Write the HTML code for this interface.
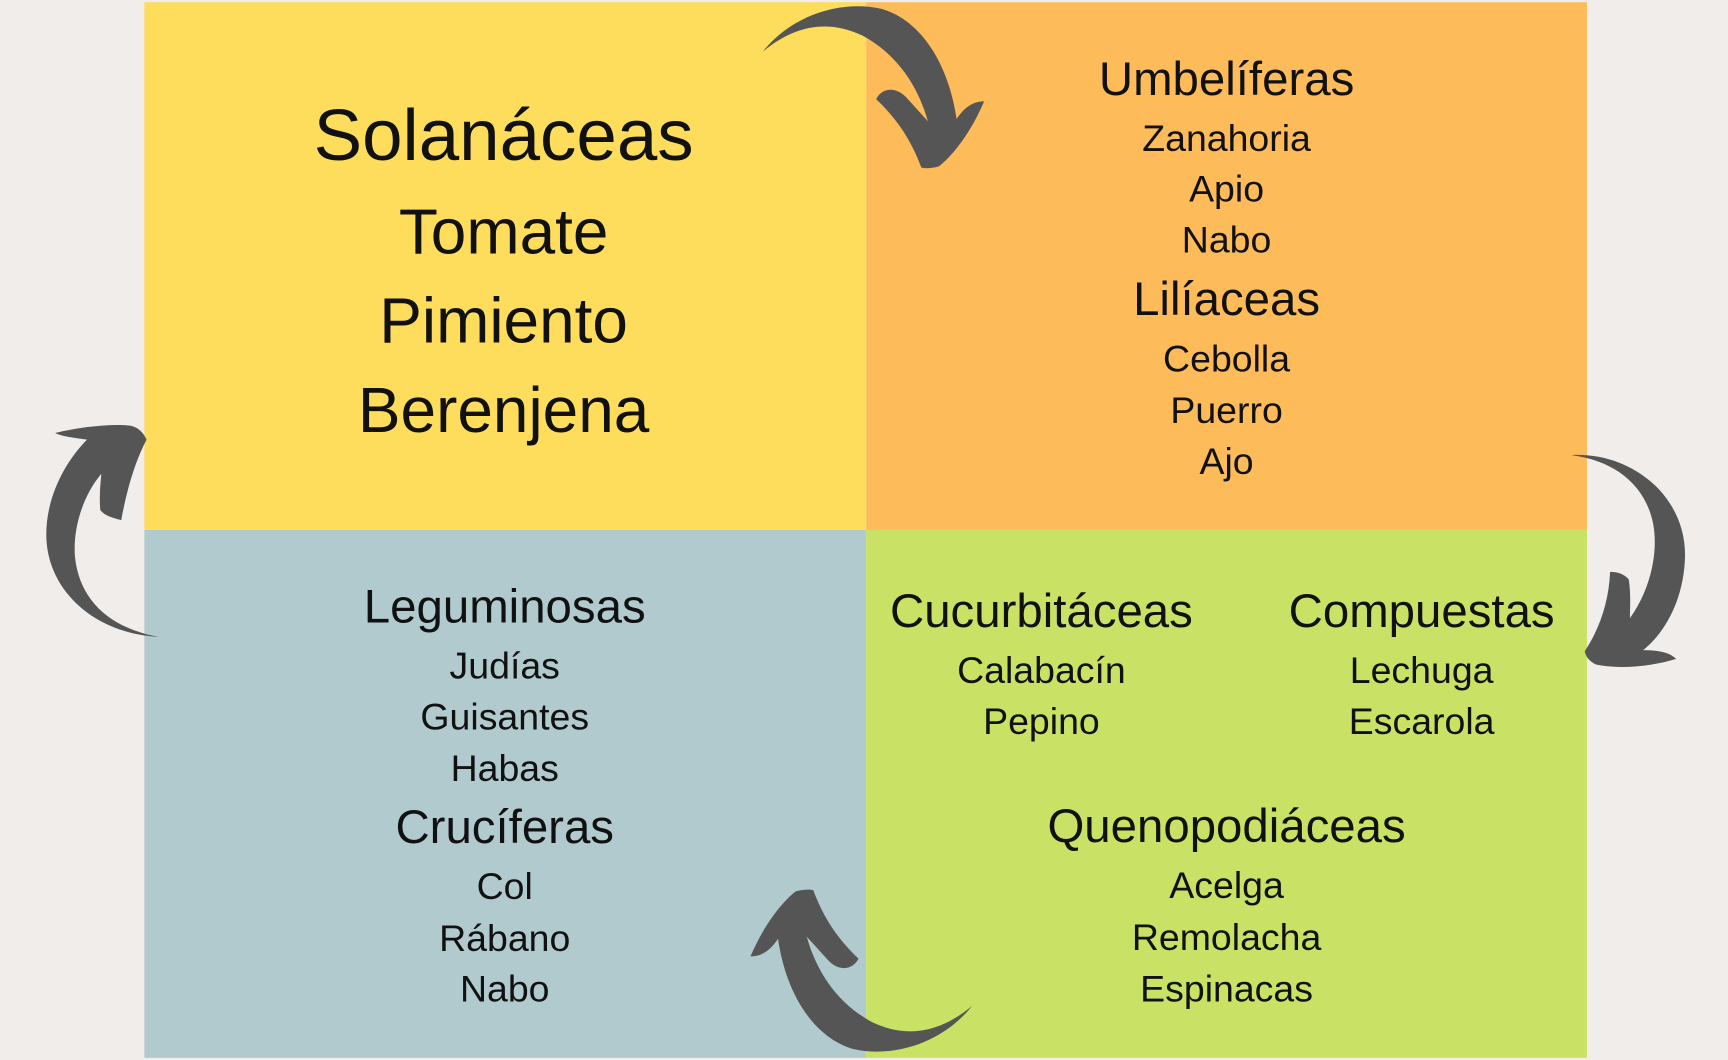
<!DOCTYPE html>
<html><head><meta charset="utf-8"><style>
html,body{margin:0;padding:0;background:#f0edeb;}
svg{display:block}
text{font-family:"Liberation Sans",sans-serif;fill:#111;text-anchor:middle}
.h{font-size:43px}.s{font-size:34px}.b{font-size:58px}
</style></head><body>
<svg width="1728" height="1060" viewBox="0 0 1568 962" preserveAspectRatio="none">
<rect width="1568" height="962" fill="#f0edeb"/>
<rect x="131" y="2" width="655" height="479" fill="#fedd5c"/>
<rect x="786" y="2" width="654" height="479" fill="#fdbb5a"/>
<rect x="131" y="481" width="655" height="479" fill="#b0cace"/>
<rect x="786" y="481" width="654" height="479" fill="#c9e265"/>
<defs>
<path id="arr" fill="#555" d="M692,47 C720,12 765,0 800,8 C840,20 862,65 868,108 C876,96 884,92 893,92 C882,118 866,140 852,151 C845,153 838,153 836,152 C826,125 812,106 795,90 C800,80 812,78 822,88 L842,110 C832,75 812,48 782,32 C752,18 722,22 692,47 Z"/>
</defs>
<use href="#arr"/>
<use href="#arr" transform="translate(782,882) rotate(180) translate(-792,-78)"/>
<path fill="#555" d="M1426,413 C1480,410 1530,450 1529,505 C1528,545 1510,575 1491,590 C1505,590 1515,592 1521,598 C1495,606 1465,607 1448,603 C1442,600 1439,596 1438,591 C1452,570 1460,545 1461,519 C1468,519 1474,521 1478,526 C1480,540 1479,552 1479,561 C1498,535 1505,500 1500,475 C1493,440 1465,418 1426,413 Z"/>
<path fill="#555" d="M144,578 C85,575 42,535 42,485 C42,450 60,418 79,399 C65,397 56,396 50,393 C75,387 100,385 115,386 C124,386 130,392 133,399 C122,420 115,445 110,472 C102,470 95,468 91,463 C90,450 91,440 92,430 C75,450 66,480 68,505 C72,545 100,570 144,578 Z"/>
<text x="457" y="145" style="font-size:66px">Solanáceas</text>
<text class="b" x="457" y="230">Tomate</text>
<text class="b" x="457" y="311">Pimiento</text>
<text class="b" x="457" y="392">Berenjena</text>
<text class="h" x="1113" y="86">Umbelíferas</text>
<text class="s" x="1113" y="137">Zanahoria</text>
<text class="s" x="1113" y="183">Apio</text>
<text class="s" x="1113" y="229">Nabo</text>
<text class="h" x="1113" y="286">Lilíaceas</text>
<text class="s" x="1113" y="337">Cebolla</text>
<text class="s" x="1113" y="384">Puerro</text>
<text class="s" x="1113" y="430">Ajo</text>
<text class="h" x="458" y="565">Leguminosas</text>
<text class="s" x="458" y="616">Judías</text>
<text class="s" x="458" y="662">Guisantes</text>
<text class="s" x="458" y="709">Habas</text>
<text class="h" x="458" y="765">Crucíferas</text>
<text class="s" x="458" y="816">Col</text>
<text class="s" x="458" y="863">Rábano</text>
<text class="s" x="458" y="909">Nabo</text>
<text class="h" x="945" y="569">Cucurbitáceas</text>
<text class="s" x="945" y="620">Calabacín</text>
<text class="s" x="945" y="666">Pepino</text>
<text class="h" x="1290" y="569">Compuestas</text>
<text class="s" x="1290" y="620">Lechuga</text>
<text class="s" x="1290" y="666">Escarola</text>
<text class="h" x="1113" y="764">Quenopodiáceas</text>
<text class="s" x="1113" y="815">Acelga</text>
<text class="s" x="1113" y="862">Remolacha</text>
<text class="s" x="1113" y="909">Espinacas</text>
</svg>
</body></html>
